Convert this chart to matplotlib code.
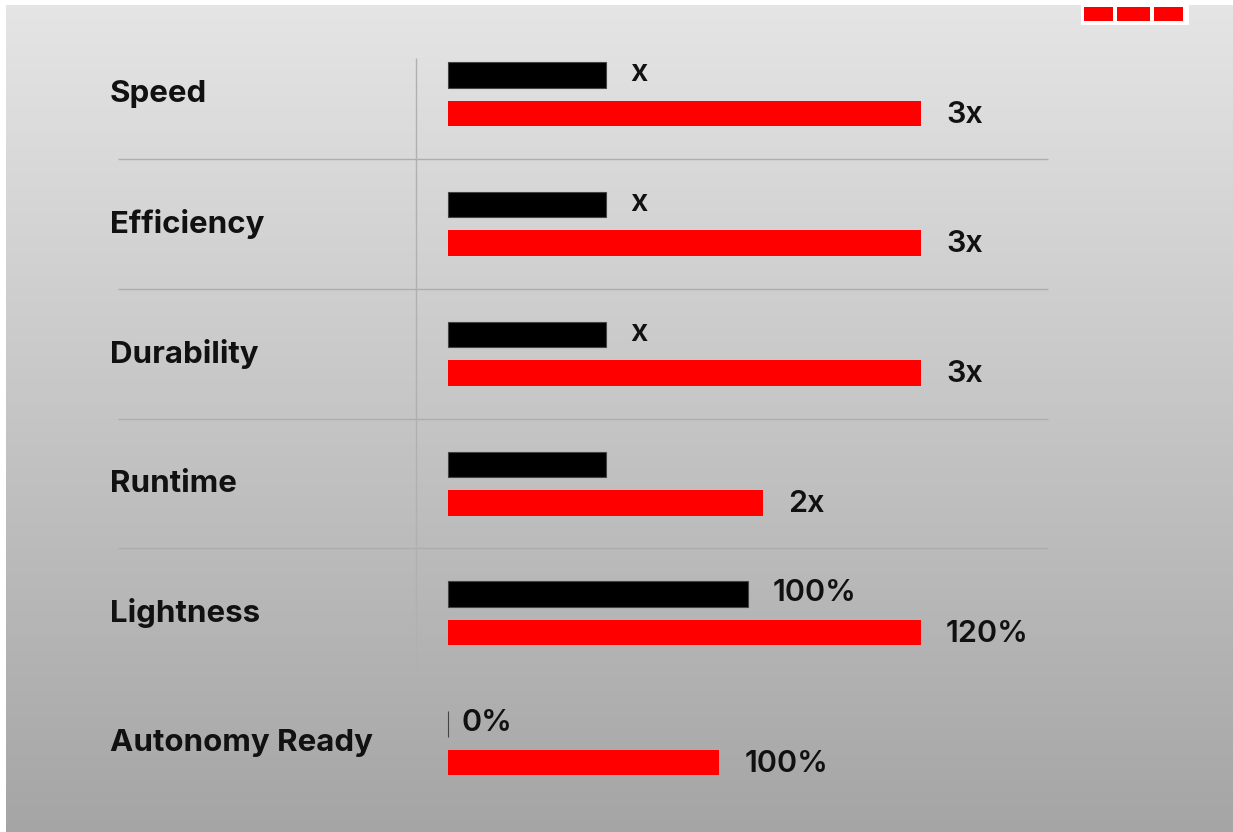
import numpy as np
import matplotlib
matplotlib.use("Agg")
import matplotlib.pyplot as plt
from matplotlib.patches import Rectangle

plt.rcParams['font.family'] = ['Inter', 'DejaVu Sans']

# chart data
categories = ["Speed", "Efficiency", "Durability", "Runtime", "Lightness", "Autonomy Ready"]
before_values = [1.0, 1.0, 1.0, 1.0, 1.9, 0.0]
after_values = [3.0, 3.0, 3.0, 2.0, 3.0, 1.72]
before_labels = ["x", "x", "x", "", "100%", "0%"]
after_labels = ["3x", "3x", "3x", "2x", "120%", "100%"]

W, H = 1233, 832
fig = plt.figure(figsize=(W / 100, H / 100), dpi=100)
fig.patch.set_facecolor("white")

# gradient background (white strip at top and left)
bg = fig.add_axes([6 / W, 0, 1 - 6 / W, 1 - 5 / H])
grad = np.linspace(229, 165, 256)[:, None] / 255.0
bg.imshow(np.dstack([grad, grad, grad]), aspect="auto", extent=[0, 1, 0, 1])
bg.set_axis_off()

# red logo blocks top right
fig.patches.append(Rectangle((1081 / W, 1 - 25 / H), 108 / W, 25 / H, transform=fig.transFigure,
                             facecolor="white", edgecolor="none", zorder=2))
for x0, x1 in [(1084, 1113), (1117, 1150), (1154, 1183)]:
    fig.patches.append(Rectangle((x0 / W, 1 - 21 / H), (x1 - x0) / W, 14 / H, transform=fig.transFigure,
                                 facecolor="#ff0000", edgecolor="none", zorder=3))

# main axes in pixel-like layout: x unit = 157.7 px from x=448, row spacing 129.8 px
xpx, x0px = 157.7, 448.0
ypx, y0px = 129.84, 94.0
ax = fig.add_axes([0, 0, 1, 1])
ax.patch.set_alpha(0)
ax.set_xlim(-x0px / xpx, (W - x0px) / xpx)
ax.set_ylim((H - y0px) / ypx, -y0px / ypx)
ax.set_axis_off()

rows = np.arange(len(categories))
off = 19.25 / ypx
bh = 25.5 / ypx

ax.barh(rows - off, before_values, height=bh, color="black", edgecolor="#444444", linewidth=0.8)
ax.barh(rows + off, after_values, height=bh, color="#ff0000", edgecolor="none")

for i in rows:
    if before_labels[i]:
        pad = 18 if before_values[i] > 0 else 10
        ax.annotate(before_labels[i], (before_values[i], i - off), xytext=(pad, 1),
                    textcoords="offset points", ha="left", va="center",
                    fontsize=22, fontweight="semibold", color="#111111")
    ax.annotate(after_labels[i], (after_values[i], i + off), xytext=(18, -1),
                textcoords="offset points", ha="left", va="center",
                fontsize=22, fontweight="semibold", color="#111111")
    ax.text((110 - x0px) / xpx, i, categories[i], ha="left", va="center",
            fontsize=22.5, fontweight="bold", color="#111111")

# separators
sep_y = rows[:4] + 0.5
ax.hlines(sep_y, (118 - x0px) / xpx, (1048 - x0px) / xpx, color="#adadad", linewidth=1)
ax.vlines((416 - x0px) / xpx, (58 - y0px) / ypx, (670 - y0px) / ypx, color="#b0b0b0", linewidth=1)

fig.savefig("out.png", dpi=100)
